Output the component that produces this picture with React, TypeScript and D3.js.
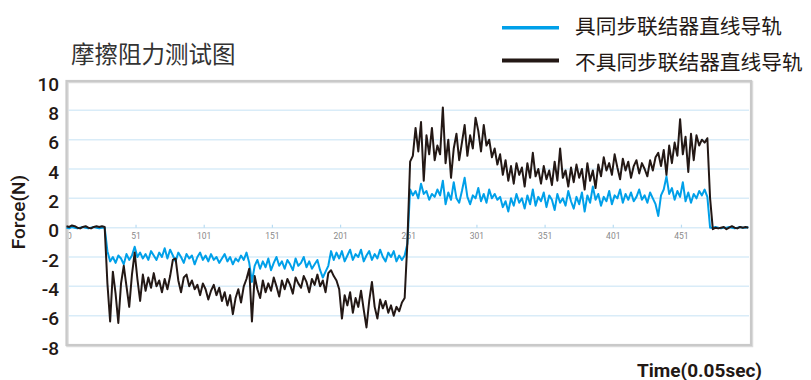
import React from "react";
import * as d3 from "d3";

// Sample step (each array entry is one sample every STEP time units)
const STEP = 2;

// 不具同步联结器直线导轨 (black)
const noSync: number[] = [
  0.1, 0.05, 0.15, 0.1, 0.0, -0.05, 0.05, 0.1, 0.0, -0.05, 0.05, 0.1, 0.05, 0.1, 0.05,
  -3.8, -6.4, -3.0, -4.5, -6.5, -3.8, -2.6, -4.0, -5.4, -3.2,
  -1.7, -3.5, -5.0, -3.2, -4.3, -3.4, -4.1, -3.1, -4.0, -3.6,
  -4.4, -3.5, -4.2, -3.3, -2.2, -2.1, -3.6, -4.4, -3.4, -3.2,
  -4.0, -3.6, -4.2, -3.9, -4.6, -3.8, -4.2, -4.9, -4.3, -3.9,
  -4.6, -4.1, -5.0, -4.4, -5.3, -4.6, -5.9, -4.8, -4.2, -5.1,
  -4.0, -3.5, -2.8, -6.4, -3.3, -4.2, -4.8, -3.6, -4.4, -3.8,
  -4.3, -3.4, -4.0, -4.7, -3.6, -4.2, -3.5, -3.9, -4.5, -3.4,
  -3.8, -4.1, -3.3, -3.7, -4.4, -3.5, -3.9, -3.2, -4.0, -3.6,
  -4.4, -3.1, -2.9, -3.3, -3.6, -4.2, -6.2, -4.6, -5.3, -4.4,
  -5.8, -4.8, -5.4, -4.3, -5.6, -6.8, -5.0, -3.7, -5.4, -6.2,
  -4.9, -5.5, -5.0, -5.8, -5.3, -6.0, -5.4, -5.7, -5.1, -4.8,
  -1.0, 4.5, 4.9, 6.8, 5.2, 7.2, 3.2, 6.3, 5.0, 6.8,
  4.6, 5.6, 5.0, 8.2, 4.4, 6.0, 3.4, 5.4, 6.4, 4.6,
  5.8, 7.0, 4.9, 6.3, 5.4, 7.5, 6.6, 5.2, 7.0, 5.6,
  6.0, 4.8, 5.4, 4.3, 5.0, 3.6, 4.6, 3.2, 4.2, 3.0,
  4.4, 3.6, 4.1, 2.8, 4.4, 3.4, 5.1, 3.5, 4.0, 3.0,
  4.2, 3.3, 3.9, 2.9, 4.5, 3.2, 5.4, 3.4, 3.9, 2.8,
  4.1, 3.1, 4.3, 3.4, 4.0, 2.6, 4.4, 3.2, 3.9, 2.7,
  4.3, 3.5, 4.8, 3.9, 4.4, 3.6, 5.0, 4.1, 3.3, 4.7,
  3.9, 4.5, 3.4, 4.2, 4.6, 3.7, 4.4, 4.0, 3.5, 4.6,
  3.9, 4.8, 5.1, 4.2, 5.3, 3.6, 5.6, 4.4, 5.8, 4.9,
  7.4, 5.0, 6.2, 3.8, 6.4, 4.6, 6.3, 5.6, 6.0, 5.8,
  6.1, 2.0, -0.1, 0.0, -0.05, 0.0, 0.05, -0.1, 0.0, 0.1,
  0.0, -0.05, 0.05, 0.0, 0.05, 0.0,
];

// 具同步联结器直线导轨 (blue)
const withSync: number[] = [
  0.0, -0.05, 0.05, 0.0, -0.05, 0.0, 0.05, 0.0, -0.05, 0.0, 0.05, 0.0, -0.05, 0.0, 0.0,
  -1.6, -2.3, -2.0, -2.4, -1.9, -2.1, -2.5, -1.8, -2.2, -1.9,
  -1.3, -2.0, -1.7, -2.1, -1.8, -2.2, -1.6, -1.9, -2.2, -1.7,
  -2.0, -1.4, -2.1, -1.5, -1.9, -2.3, -1.7, -2.0, -2.4, -1.8,
  -2.1, -1.9, -2.5, -2.0, -1.7, -2.2, -1.9, -2.3, -1.8, -2.2,
  -2.0, -2.4, -2.1, -1.8, -2.3, -2.0, -2.5, -2.1, -2.3, -1.9,
  -2.2, -1.7, -2.4, -3.7, -2.6, -2.2, -2.8, -2.3, -2.7, -2.1,
  -2.9, -2.4, -2.0, -2.6, -2.3, -2.8, -2.2, -2.5, -2.9, -2.1,
  -2.6, -2.4, -2.0, -2.7, -2.3, -2.8, -2.5, -2.2, -2.9, -3.4,
  -3.0, -2.6, -1.6, -2.2, -1.7, -2.1, -1.6, -2.3, -1.9, -1.5,
  -2.2, -1.8, -2.0, -1.5, -2.3, -1.9, -1.6, -2.2, -1.8, -2.1,
  -1.5, -2.0, -2.3, -1.7, -2.0, -1.6, -2.3, -1.9, -2.2, -1.9,
  -1.1, 2.6, 2.2, 2.5, 2.0, 3.0, 2.3, 2.5, 1.9, 2.3,
  2.1, 2.6, 2.2, 3.2, 1.6, 2.4, 1.9, 3.1, 2.0, 1.7,
  2.5, 3.4, 2.1, 1.6, 2.2, 2.0, 2.7, 1.8, 2.3, 1.7,
  2.6, 2.0, 2.3, 1.9, 2.1, 1.4, 1.8, 1.1, 2.0, 1.5,
  2.3, 1.7, 2.0, 1.3, 2.2, 1.6, 2.6, 1.5, 2.1, 1.8,
  2.4, 1.4, 2.2, 1.9, 1.2, 2.3, 1.7, 2.0, 1.5, 2.5,
  1.8, 1.3, 2.1, 1.6, 2.4, 1.1, 2.2, 1.7, 2.8, 1.9,
  2.3, 1.5, 2.1, 1.8, 2.5, 1.6, 2.2, 2.0, 2.6, 1.7,
  2.3, 1.9, 2.4, 1.8, 2.1, 2.6, 1.9, 2.2, 1.7, 2.4,
  2.0, 1.6, 0.8, 2.2, 2.6, 3.5, 2.3, 2.7, 1.9, 2.5,
  2.1, 3.1, 1.8, 2.4, 1.7, 2.3, 2.0, 2.5, 2.2, 2.6,
  2.1, 0.0, 0.0, 0.05, 0.0, -0.05, 0.0, 0.0, 0.05, 0.0,
  -0.05, 0.0, 0.05, 0.0, 0.0, 0.05,
];

const yTicks = [10, 8, 6, 4, 2, 0, -2, -4, -6, -8];
const xTicks = [0, 51, 101, 151, 201, 251, 301, 351, 401, 451];

const title = "摩擦阻力测试图";
const legendNames = ["具同步联结器直线导轨", "不具同步联结器直线导轨"];
const yLabel = "Force(N)";
const xLabel = "Time(0.05sec)";

const BLUE = "#00a0e9";
const BLACK = "#231815";

export default function App() {
  const left = 66.5, right = 751, top = 81, bottom = 345;
  const x = d3.scaleLinear().domain([0, 502]).range([left, right]);
  const y = d3.scaleLinear().domain([-8, 10]).range([bottom, top]);

  const line = d3
    .line<number>()
    .x((_, i) => x(i * STEP))
    .y((d) => y(d));

  const gridVals = yTicks.filter((v) => v !== 10 && v !== -8);

  return (
    <svg
      width={811}
      height={380}
      style={{ position: "absolute", left: 0, top: 0, background: "#fff" }}
    >
      {/* title */}
      <text
        x={71}
        y={53}
        dominantBaseline="central"
        fontFamily="'Noto Sans CJK SC'"
        fontSize={23.5}
        fill="#333"
      >
        {title}
      </text>

      {/* legend */}
      {legendNames.map((n, i) => (
        <g key={n}>
          <line
            x1={502}
            x2={559}
            y1={i === 0 ? 27.7 : 60.5}
            y2={i === 0 ? 27.7 : 60.5}
            stroke={i === 0 ? BLUE : BLACK}
            strokeWidth={i === 0 ? 3.5 : 4}
          />
          <text
            x={575}
            y={i === 0 ? 25 : 61}
            dominantBaseline="central"
            fontFamily="'Noto Sans CJK SC'"
            fontSize={20.7}
            fill={BLACK}
          >
            {n}
          </text>
        </g>
      ))}

      {/* grid */}
      {gridVals.map((v) => (
        <line
          key={v}
          x1={left + 2}
          x2={right - 2}
          y1={y(v)}
          y2={y(v)}
          stroke="#d9ecf8"
          strokeWidth={1.5}
        />
      ))}

      {/* x tick marks & labels */}
      {xTicks.map((t, i) => (
        <g key={t}>
          <line
            x1={x(t)}
            x2={x(t)}
            y1={y(0) - 3}
            y2={y(0)}
            stroke="#b9dcf2"
            strokeWidth={1.2}
          />
          <text
            x={i === 0 ? x(t) + 0.5 : x(t)}
            y={y(0) + 8.5}
            textAnchor={i === 0 ? "start" : "middle"}
            dominantBaseline="central"
            fontFamily="Roboto"
            fontSize={8.5}
            fill="#8a8a8a"
          >
            {t}
          </text>
        </g>
      ))}

      {/* frame with soft shadow */}
      <rect
        x={left + 1}
        y={top + 1}
        width={right - left}
        height={bottom - top}
        fill="none"
        stroke="#dcdcdc"
        strokeWidth={2.5}
      />
      <rect
        x={left}
        y={top}
        width={right - left}
        height={bottom - top}
        fill="none"
        stroke="#c9c9c9"
        strokeWidth={2.2}
      />

      {/* series */}
      <path d={line(withSync) || ""} fill="none" stroke={BLUE} strokeWidth={2} strokeLinejoin="round" />
      <path d={line(noSync) || ""} fill="none" stroke={BLACK} strokeWidth={2} strokeLinejoin="round" />

      {/* y tick labels */}
      {yTicks.map((v) => (
        <text
          key={v}
          x={59}
          y={y(v) + 3}
          textAnchor="end"
          dominantBaseline="central"
          fontFamily="Roboto"
          fontWeight={500}
          fontSize={19}
          fill={BLACK}
        >
          {v}
        </text>
      ))}

      {/* axis titles */}
      <text
        transform="translate(18,212) rotate(-90)"
        textAnchor="middle"
        dominantBaseline="central"
        fontFamily="Roboto"
        fontWeight={500}
        fontSize={19}
        fill={BLACK}
      >
        {yLabel}
      </text>
      <text
        x={699.5}
        y={370}
        textAnchor="middle"
        dominantBaseline="central"
        fontFamily="Roboto"
        fontWeight={700}
        fontSize={19}
        fill={BLACK}
      >
        {xLabel}
      </text>
    </svg>
  );
}
